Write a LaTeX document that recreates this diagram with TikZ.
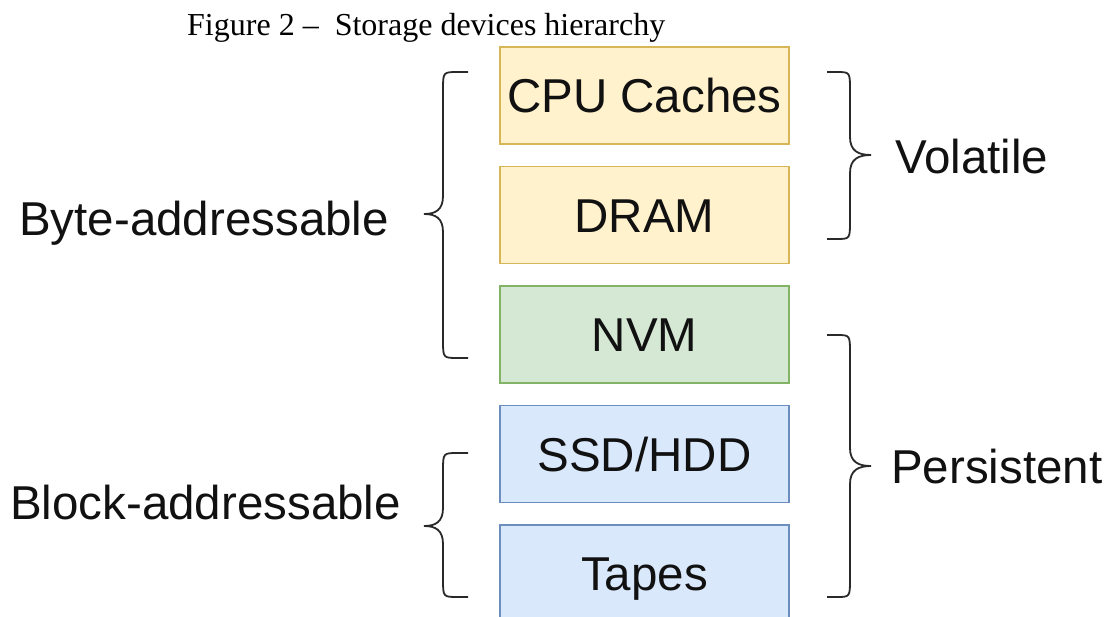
\documentclass[tikz,border=0pt]{standalone}
\usepackage{fontspec}
\setmainfont{Liberation Serif}
\newfontfamily\labelfont{Liberation Sans}
\usetikzlibrary{calc}

\definecolor{yelfill}{HTML}{FFF2CC}
\definecolor{yeldraw}{HTML}{D6B656}
\definecolor{grnfill}{HTML}{D5E8D4}
\definecolor{grndraw}{HTML}{82B366}
\definecolor{blufill}{HTML}{DAE8FC}
\definecolor{bludraw}{HTML}{6C8EBF}
\definecolor{inkgray}{HTML}{111111}

\tikzset{
  tier/.style={draw, line width=1.8pt, minimum width=289pt, minimum height=97pt,
    inner sep=0pt, text height=34pt, text depth=0pt,
    font=\labelfont\fontsize{47.5}{50}\selectfont, text=inkgray},
  volatilebox/.style={tier, fill=yelfill, draw=yeldraw},
  nvmbox/.style={tier, fill=grnfill, draw=grndraw},
  blockbox/.style={tier, fill=blufill, draw=bludraw},
  grouplabel/.style={anchor=base west, inner sep=0pt,
    font=\labelfont\fontsize{47.5}{50}\selectfont, text=inkgray},
  bracestroke/.style={draw=inkgray!90, line width=1.8pt},
}

% curly brace: #1 end x, #2 spine x, #3 tip x, #4 top y, #5 middle y, #6 bottom y
\newcommand{\curlybrace}[6]{%
  \draw[bracestroke]
    (#1,#4) -- ($(#1,#4)!0.4!(#2,#4)$)
    .. controls (#2,#4) and (#2,#4) .. (#2,{#4+18})
    -- (#2,{#5-18})
    .. controls (#2,{#5-4}) and ($(#2,#5)!0.4!(#3,#5)$) .. (#3,#5)
    .. controls ($(#2,#5)!0.4!(#3,#5)$) and (#2,{#5+4}) .. (#2,{#5+18})
    -- (#2,{#6-18})
    .. controls (#2,#6) and (#2,#6) .. ($(#1,#6)!0.4!(#2,#6)$)
    -- (#1,#6);
}

\begin{document}
\begin{tikzpicture}[x=1pt, y=-1pt]
  \clip (0,0) rectangle (1113,616);
  \fill[white] (0,0) rectangle (1113,616);

  % caption
  \node[anchor=base west, inner sep=0pt, font=\fontsize{32}{36}\selectfont]
    (caption) at (187,35) {Figure 2 –\ \ Storage devices hierarchy};

  % storage tiers
  \node[volatilebox] (cpu)   at (644.5, 95.5) {CPU Caches};
  \node[volatilebox] (dram)  at (644.5,215)   {DRAM};
  \node[nvmbox]      (nvm)   at (644.5,334.5) {NVM};
  \node[blockbox]    (ssd)   at (644.5,454)   {SSD/HDD};
  \node[blockbox]    (tapes) at (644.5,573.5) {Tapes};

  % left groupings
  \curlybrace{468}{443}{424}{72}{214}{358}
  \curlybrace{468}{443}{424}{453}{526}{597}
  \node[grouplabel] (byte)  at (19,235) {Byte-addressable};
  \node[grouplabel] (block) at (10,519) {Block-addressable};

  % right groupings
  \curlybrace{827}{850}{871}{72}{155}{239}
  \curlybrace{827}{850}{871}{335}{466}{597}
  \node[grouplabel] (vol)  at (895,173) {Volatile};
  \node[grouplabel] (pers) at (891,483) {Persistent};
\end{tikzpicture}
\end{document}
